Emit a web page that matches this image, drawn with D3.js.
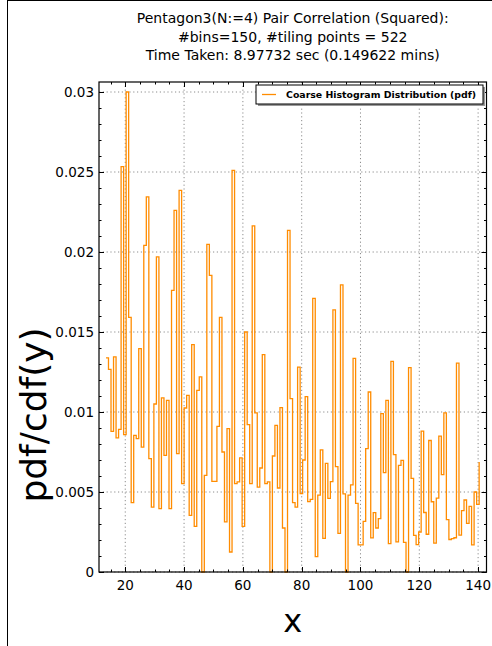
<!DOCTYPE html>
<html><head><meta charset="utf-8">
<script src="https://cdn.jsdelivr.net/npm/d3@7"></script>
<style>body{margin:0;background:#fff} svg{display:block} text{font-family:"DejaVu Sans",sans-serif}</style>
</head><body><svg id="c" width="492" height="646"></svg>
<script>
const titleLines = ["Pentagon3(N:=4) Pair Correlation (Squared):", "#bins=150, #tiling points = 522", "Time Taken: 8.97732 sec (0.149622 mins)"];
const legendLabel = "Coarse Histogram Distribution (pdf)";
const xLabel = "x";
const yLabel = "pdf/cdf(y)";
const xTicks = [20, 40, 60, 80, 100, 120, 140];
const yTicks = [0, 0.005, 0.01, 0.015, 0.02, 0.025, 0.03];
const yTickLabels = ["0", "0.005", "0.01", "0.015", "0.02", "0.025", "0.03"];
const xDomain = [11.07, 142.85];
const yDomain = [0, 0.030625];
const binRange = [13.44, 140.35];
const pdfValues = [
 0.01338,0.01267,0.00879,0.01344,0.00838,0.00892,0.02533,0.00858,0.0300,0.01592,
 0.00433,0.00854,0.00833,0.01396,0.00781,0.02042,0.02344,0.00708,0.00406,0.0105,
 0.01969,0.00396,0.01088,0.00729,0.01073,0.00396,0.0176,0.0226,0.0074,0.02385,
 0.00552,0.01025,0.01104,0.00354,0.01421,0.00285,0.01135,0.01219,0,0.00604,
 0.02048,0.01854,0.00567,0.00567,0.0091,0.01592,0.0075,0.00313,0.00896,0.00125,
 0.0251,0.00552,0.00563,0.00713,0.00285,0.015,0.00921,0.00552,0.02163,0.00994,
 0.00531,0.0065,0.01358,0.00552,0.00563,0,0.00725,0.00917,0.00525,0.01027,
 0.00275,0,0.02135,0.01083,0.00433,0.00406,0.01281,0.0049,0.007,0.01096,
 0.0044,0.00454,0.0171,0.00096,0.00481,0.00763,0.0021,0.00679,0.0046,0.00565,
 0.01638,0.00658,0.00242,0.01794,0.00488,0,0.00481,0.00544,0.01335,0.00429,
 0.00169,0.00169,0.00317,0.00771,0.01125,0.00213,0.00371,0.00275,0.00333,0.0099,
 0.00621,0.01073,0.00177,0.01317,0.00733,0.00188,0.00667,0.00698,0.00185,0,
 0.01277,0.00585,0.00229,0.00171,0.0025,0.0088,0.00372,0.00236,0.00822,0.00439,
 0.0018,0.00462,0.00849,0.00608,0.00995,0.00327,0.00203,0.00209,0.00214,0.01306,
 0.0023,0.00383,0.0045,0.00304,0.0041,0.00169,0.005,0.00423,0.00687
];

const W = 492, H = 646;
const m = {left: 99, right: 5.5, top: 82, bottom: 74};
const svg = d3.select("#c");
const x = d3.scaleLinear().domain(xDomain).range([m.left, W - m.right]);
const y = d3.scaleLinear().domain(yDomain).range([H - m.bottom, m.top]);
const iw = W - m.left - m.right, ih = H - m.top - m.bottom;

svg.append("line").attr("x1", 7.5).attr("x2", 7.5).attr("y1", 0).attr("y2", H).attr("stroke", "#000").attr("stroke-width", 1);
svg.append("line").attr("x1", 7).attr("x2", W).attr("y1", 0.5).attr("y2", 0.5).attr("stroke", "#000").attr("stroke-width", 1);

svg.append("g").selectAll("text").data(titleLines).join("text")
  .attr("x", m.left + iw / 2).attr("y", (d, i) => 23 + i * 18.5)
  .attr("text-anchor", "middle").attr("font-size", 14).text(d => d);

const grid = svg.append("g").attr("stroke", "#808080").attr("stroke-width", 0.9).attr("stroke-dasharray", "1.2,2.6");
grid.selectAll(".gx").data(xTicks).join("line")
  .attr("x1", d => x(d)).attr("x2", d => x(d)).attr("y1", m.top).attr("y2", H - m.bottom);
grid.selectAll(".gy").data(yTicks).join("line")
  .attr("y1", d => y(d)).attr("y2", d => y(d)).attr("x1", m.left).attr("x2", W - m.right);

const n = pdfValues.length;
const xs = d3.scaleLinear().domain([0, n - 1]).range(binRange);
const line = d3.line().x((d, i) => x(xs(i))).y(d => y(d)).curve(d3.curveStepAfter);
svg.append("path").datum(pdfValues).attr("d", line)
  .attr("fill", "none").attr("stroke", "#ff8c00").attr("stroke-width", 1.3).attr("stroke-linejoin", "miter");

const xMinor = d3.range(15, 142, 5);
const yMinor = d3.range(0, 0.0306, 0.001);
function ticksH(yy, dir) {
  const g = svg.append("g").attr("stroke", "#000").attr("stroke-width", 1);
  g.selectAll("line.mi").data(xMinor).join("line")
    .attr("x1", d => Math.round(x(d)) + 0.5).attr("x2", d => Math.round(x(d)) + 0.5)
    .attr("y1", yy).attr("y2", yy + dir * 2.5);
  g.selectAll("line.ma").data(xTicks).join("line").attr("class", "ma")
    .attr("x1", d => Math.round(x(d)) + 0.5).attr("x2", d => Math.round(x(d)) + 0.5)
    .attr("y1", yy).attr("y2", yy + dir * 5);
}
function ticksV(xx, dir) {
  const g = svg.append("g").attr("stroke", "#000").attr("stroke-width", 1);
  g.selectAll("line.mi").data(yMinor).join("line")
    .attr("y1", d => Math.round(y(d)) + 0.5).attr("y2", d => Math.round(y(d)) + 0.5)
    .attr("x1", xx).attr("x2", xx + dir * 2.5);
  g.selectAll("line.ma").data(yTicks).join("line").attr("class", "ma")
    .attr("y1", d => Math.round(y(d)) + 0.5).attr("y2", d => Math.round(y(d)) + 0.5)
    .attr("x1", xx).attr("x2", xx + dir * 5);
}
ticksH(m.top, 1); ticksH(H - m.bottom, -1);
ticksV(m.left, 1); ticksV(W - m.right, -1);

svg.append("rect").attr("x", m.left).attr("y", m.top).attr("width", iw).attr("height", ih)
  .attr("fill", "none").attr("stroke", "#000").attr("stroke-width", 1.2);

svg.append("g").selectAll("text").data(xTicks).join("text")
  .attr("x", d => x(d)).attr("y", H - m.bottom + 18).attr("text-anchor", "middle")
  .attr("font-size", 13.5).text(d => d);
svg.append("g").selectAll("text").data(yTicks).join("text")
  .attr("x", m.left - 5).attr("y", d => y(d) + 5).attr("text-anchor", "end")
  .attr("font-size", 13.5).text((d, i) => yTickLabels[i]);

svg.append("text").attr("x", m.left + iw / 2).attr("y", 632).attr("text-anchor", "middle")
  .attr("font-size", 32).text(xLabel);
svg.append("text").attr("transform", "translate(46,415) rotate(-90)")
  .attr("text-anchor", "middle").attr("font-size", 36).text(yLabel);

const lg = svg.append("g").attr("transform", "translate(256,85)");
lg.append("rect").attr("x", 2).attr("y", 2).attr("width", 227).attr("height", 19).attr("fill", "#999");
lg.append("rect").attr("x", 0).attr("y", 0).attr("width", 227).attr("height", 19).attr("fill", "#fff").attr("stroke", "#000").attr("stroke-width", 1);
lg.append("line").attr("x1", 6).attr("x2", 20).attr("y1", 9.5).attr("y2", 9.5).attr("stroke", "#ff8c00").attr("stroke-width", 1.3);
lg.append("text").attr("x", 30).attr("y", 13).attr("font-size", 9.4).attr("font-weight", "bold").text(legendLabel);
</script></body></html>
